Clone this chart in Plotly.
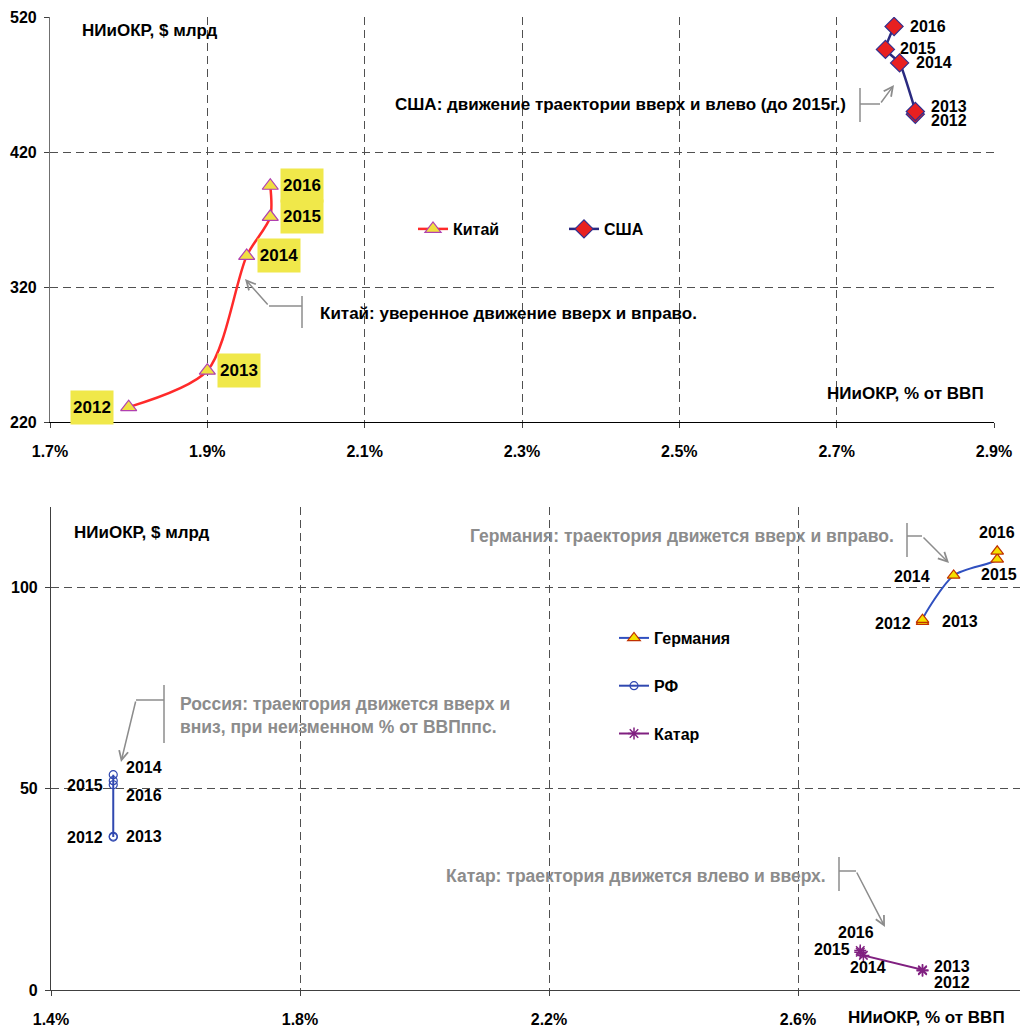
import plotly.graph_objects as go

W, H = 1022, 1028
def px(x): return x / W
def py(y): return 1 - y / H

years = ["2012", "2013", "2014", "2015", "2016"]

# Top chart: China, USA  (x: R&D % of GDP, y: R&D $ bn)
china_gdp = [1.80, 1.90, 1.95, 1.98, 1.98]
china_rd = [231, 258, 343, 372, 395]
usa_gdp = [2.80, 2.80, 2.78, 2.762, 2.773]
usa_rd = [448, 450, 486, 496, 513]

# Bottom chart: Germany, Russia, Qatar
ger_gdp = [2.80, 2.80, 2.85, 2.92, 2.92]
ger_rd = [91.5, 92.0, 103.0, 107.0, 109.0]
rus_gdp = [1.50, 1.50, 1.50, 1.50, 1.50]
rus_rd = [38.0, 38.2, 53.5, 52.0, 51.0]
qat_gdp = [2.80, 2.80, 2.705, 2.70, 2.70]
qat_rd = [4.8, 5.0, 8.6, 9.8, 9.4]

top_x_ticks = [1.7, 1.9, 2.1, 2.3, 2.5, 2.7, 2.9]
top_x_text = ["1.7%", "1.9%", "2.1%", "2.3%", "2.5%", "2.7%", "2.9%"]
top_y_ticks = [220, 320, 420, 520]
bot_x_ticks = [1.4, 1.8, 2.2, 2.6]
bot_x_text = ["1.4%", "1.8%", "2.2%", "2.6%"]
bot_y_ticks = [0, 50, 100]

FONT = "Liberation Sans, Arial, sans-serif"
GRAY = "#8c8c8c"
LBL_BG = "#f0e84a"

fig = go.Figure()

fig.add_trace(go.Scatter(
    x=china_gdp, y=china_rd, name="Китай", mode="lines+markers",
    line=dict(color="#ff2a2a", width=2.5, shape="spline", smoothing=0.8),
    marker=dict(symbol="triangle-up", size=14, color="#f0e040",
                line=dict(color="#b040b0", width=1.2)),
    xaxis="x", yaxis="y", legend="legend"))
fig.add_trace(go.Scatter(
    x=usa_gdp, y=usa_rd, name="США", mode="lines+markers",
    line=dict(color="#2a2a80", width=2.5, shape="spline", smoothing=0.4),
    marker=dict(symbol="diamond", size=14, color="#e82020",
                line=dict(color="#303090", width=1.2)),
    xaxis="x", yaxis="y", legend="legend"))

fig.add_trace(go.Scatter(
    x=ger_gdp, y=ger_rd, name="Германия", mode="lines+markers",
    line=dict(color="#3050c0", width=2, shape="spline", smoothing=0.8),
    marker=dict(symbol="triangle-up", size=11, color="#f5e000",
                line=dict(color="#c03000", width=1.2)),
    xaxis="x2", yaxis="y2", legend="legend2", legendgroup="g1"))
fig.add_trace(go.Scatter(
    x=rus_gdp, y=rus_rd, name="РФ", mode="lines+markers",
    line=dict(color="#3048b0", width=2),
    marker=dict(symbol="circle-open", size=8, color="#3048b0",
                line=dict(width=1.2)),
    xaxis="x2", yaxis="y2", legend="legend2", legendgroup="g2"))
fig.add_trace(go.Scatter(
    x=qat_gdp, y=qat_rd, name="Катар", mode="lines+markers",
    line=dict(color="#802080", width=2),
    marker=dict(symbol="asterisk-open", size=10, color="#802080",
                line=dict(color="#802080", width=1.5)),
    xaxis="x2", yaxis="y2", legend="legend2", legendgroup="g3"))

ann = []
# China year labels (yellow boxes)
china_pos = [("right", -15), ("left", 10), ("left", 10), ("left", 10), ("left", 10)]
for i, yr in enumerate(years):
    anc, xs = china_pos[i]
    ann.append(dict(x=china_gdp[i], y=china_rd[i], xref="x", yref="y", text=yr,
                    showarrow=False, xanchor=anc, xshift=xs, bgcolor=LBL_BG,
                    width=42, height=33, borderpad=0,
                    font=dict(size=17, color="black")))
# USA labels
usa_pos = [(14, -6), (14, 5), (14, 0), (13, 1), (14, 0)]
for i, yr in enumerate(years):
    xs, ys = usa_pos[i]
    ann.append(dict(x=usa_gdp[i], y=usa_rd[i], xref="x", yref="y", text=yr,
                    showarrow=False, xanchor="left", xshift=xs, yshift=ys,
                    font=dict(size=16, color="black")))
# Germany labels
ger_pos = [("right", -10, -2), ("left", 17, -2), ("right", -22, -1), ("center", 2, -15), ("center", 0, 19)]
for i, yr in enumerate(years):
    anc, xs, ys = ger_pos[i]
    ann.append(dict(x=ger_gdp[i], y=ger_rd[i], xref="x2", yref="y2", text=yr,
                    showarrow=False, xanchor=anc, xshift=xs, yshift=ys,
                    font=dict(size=16, color="black")))
# Russia labels
rus_pos = [("right", -8, 0), ("left", 11, 0), ("left", 11, 7), ("right", -8, -5), ("left", 11, -11)]
for i, yr in enumerate(years):
    anc, xs, ys = rus_pos[i]
    ann.append(dict(x=rus_gdp[i], y=rus_rd[i], xref="x2", yref="y2", text=yr,
                    showarrow=False, xanchor=anc, xshift=xs, yshift=ys,
                    font=dict(size=16, color="black")))
# Qatar labels
qat_pos = [("left", 9, -12), ("left", 9, 3), ("center", 5, -12), ("right", -8, 1), ("center", -4, 20)]
for i, yr in enumerate(years):
    anc, xs, ys = qat_pos[i]
    ann.append(dict(x=qat_gdp[i], y=qat_rd[i], xref="x2", yref="y2", text=yr,
                    showarrow=False, xanchor=anc, xshift=xs, yshift=ys,
                    font=dict(size=16, color="black")))

# Axis titles
def txt(x, y, t, anchor="left", color="black", size=17):
    ann.append(dict(x=px(x), y=py(y), xref="paper", yref="paper", text=t,
                    showarrow=False, xanchor=anchor, yanchor="middle",
                    align="left", font=dict(size=size, color=color)))

txt(80, 30, "НИиОКР, $ млрд")
txt(986, 394, "НИиОКР, % от ВВП", anchor="right")
txt(72, 532, "НИиОКР, $ млрд")
txt(1007, 1017, "НИиОКР, % от ВВП", anchor="right")

# Comments
txt(848, 105, "США: движение траектории вверх и влево (до 2015г.)", anchor="right")
txt(318, 313, "Китай: уверенное движение вверх и вправо.")
txt(896, 536, "Германия: траектория движется вверх и вправо.", anchor="right", color=GRAY, size=17.5)
txt(828, 876, "Катар: траектория движется влево и вверх.", anchor="right", color=GRAY, size=17.5)
ann.append(dict(x=px(178), y=py(715), xref="paper", yref="paper",
                text="Россия: траектория движется вверх и<br>вниз, при неизменном % от ВВПппс.",
                showarrow=False, xanchor="left", yanchor="middle", align="left",
                font=dict(size=17.5, color=GRAY)))

# Brackets + arrows
shapes = []
def bracket(bx, y1, y2, hx, hy, tx, ty):
    shapes.append(dict(type="line", xref="paper", yref="paper",
                       x0=px(bx), x1=px(bx), y0=py(y1), y1=py(y2),
                       line=dict(color=GRAY, width=1.5)))
    shapes.append(dict(type="line", xref="paper", yref="paper",
                       x0=px(bx), x1=px(hx), y0=py(hy), y1=py(hy),
                       line=dict(color=GRAY, width=1.5)))
    ann.append(dict(x=px(tx), y=py(ty), xref="paper", yref="paper", text="",
                    showarrow=True, ax=hx - tx, ay=hy - ty, arrowhead=5,
                    arrowsize=1.2, arrowwidth=1.5, arrowcolor=GRAY))

bracket(860, 88, 122, 880, 104, 894, 85)
bracket(302, 296, 328, 269, 306, 245, 279)
bracket(907, 523, 557, 922, 536, 949, 563)
bracket(839, 857, 891, 856, 871, 885, 927)
bracket(164, 685, 743, 136, 700, 121, 762)

grid = dict(showgrid=True, gridcolor="#505050", griddash="8px,5px", gridwidth=1,
            zeroline=False, ticks="outside", ticklen=5, tickcolor="#404040",
            automargin=False, tickfont=dict(size=16, color="black"))

fig.update_layout(
    width=W, height=H,
    margin=dict(l=0, r=0, t=0, b=0, autoexpand=False),
    paper_bgcolor="white", plot_bgcolor="white",
    font=dict(family=FONT, size=16, color="black", weight="bold"),
    xaxis=dict(domain=[px(50), px(994)], range=[1.7, 2.9], anchor="y",
               tickvals=top_x_ticks, ticktext=top_x_text, showline=True,
               linecolor="black", linewidth=1.2, ticklabelstandoff=10, **grid),
    yaxis=dict(domain=[py(422), py(17)], range=[220, 520], anchor="x",
               tickvals=top_y_ticks, showline=True, linecolor="#707070",
               linewidth=1.2, ticklabelstandoff=4, **grid),
    xaxis2=dict(domain=[px(51), px(1020)], range=[1.4, 2.9566], anchor="y2",
                tickvals=bot_x_ticks, ticktext=bot_x_text, showline=True,
                linecolor="#404040", linewidth=1.2, ticklabelstandoff=10, **grid),
    yaxis2=dict(domain=[py(990), py(507)], range=[0, 120], anchor="x2",
                tickvals=bot_y_ticks, showline=True, linecolor="#404040",
                linewidth=1.2, ticklabelstandoff=4, **grid),
    legend=dict(orientation="h", x=px(413), y=py(229), xanchor="left",
                yanchor="middle", bgcolor="rgba(0,0,0,0)", entrywidth=106,
                font=dict(size=16, color="black")),
    legend2=dict(orientation="v", x=px(614), y=py(686), xanchor="left",
                 yanchor="middle", bgcolor="rgba(0,0,0,0)", tracegroupgap=24,
                 font=dict(size=16, color="black")),
    annotations=ann, shapes=shapes,
)

fig.write_html(
    "out.html",
    config={"displayModeBar": False},
    post_script="document.body.style.margin='0px';document.body.style.overflow='hidden';",
)
